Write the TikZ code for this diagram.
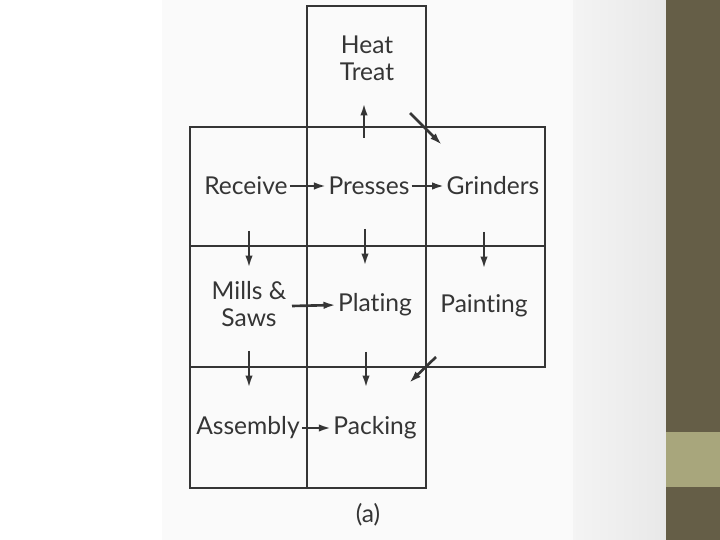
\documentclass[tikz,border=0pt]{standalone}
\usepackage{fontspec}
\setmainfont{Lato}[Ligatures={NoCommon}]
\usetikzlibrary{arrows.meta}
\definecolor{ink}{HTML}{353535}
\definecolor{paper}{HTML}{FAFAFA}
\definecolor{olive}{HTML}{655E47}
\definecolor{lightolive}{HTML}{A8A67C}
\tikzset{
  dept/.style={inner sep=1pt, text=ink, align=center,
    font=\fontsize{14}{15.5}\selectfont},
  flow/.style={ink, line width=1.5pt, -{Latex[length=0.25cm,width=0.15cm]}},
  wall/.style={ink, line width=1.1pt}
}
\begin{document}
\begin{tikzpicture}[x=0.02cm, y=-0.02cm]
  \useasboundingbox (0,0) rectangle (720,540);
  % slide background
  \fill[white] (0,0) rectangle (720,540);
  \fill[paper] (162,0) rectangle (573,540);
  \shade[left color=paper!95!gray, right color=gray!18] (573,0) rectangle (666,540);
  \fill[olive] (666,0) rectangle (720,540);
  \fill[lightolive] (666,432) rectangle (720,487);
  % plant layout grid
  \draw[wall] (307,127) -- (307,6) -- (426,6) -- (426,127);
  \draw[wall] (190,127) rectangle (545,367);
  \draw[wall] (190,367) rectangle (426,488);
  \draw[wall] (190,246) -- (545,246);
  \draw[wall] (307,127) -- (307,488);
  \draw[wall] (426,127) -- (426,367);
  % departments
  \node[dept] (heat) at (367,58) {Heat\\Treat};
  \node[dept] (receive) at (246,186) {Receive};
  \node[dept] (presses) at (369,186) {Presses};
  \node[dept] (grinders) at (493,186) {Grinders};
  \node[dept] (mills) at (249,304) {Mills \&\\Saws};
  \node[dept] (plating) at (375,305) {Plating};
  \node[dept] (painting) at (484,306) {Painting};
  \node[dept] (assembly) at (248,428) {Assembly};
  \node[dept] (packing) at (375,428) {Packing};
  \node[dept] (caption) at (368,515) {(a)};
  % material flow
  \draw[flow] (receive.east) -- (presses.west);
  \draw[flow] (presses.east) -- (grinders.west);
  \draw[flow] (292,306) -- (plating.west);
  \draw[flow] (assembly.east) -- (packing.west);
  \draw[flow] (364,138) -- (364,103);
  \draw[flow] (410,113) -- (442,145);
  \draw[flow] (436,357) -- (409,383);
  \draw[flow] (249,231) -- (249,268);
  \draw[flow] (365,229) -- (365,266);
  \draw[flow] (484,232) -- (484,269);
  \draw[flow] (249,351) -- (249,388);
  \draw[flow] (366,352) -- (366,388);
\end{tikzpicture}
\end{document}
